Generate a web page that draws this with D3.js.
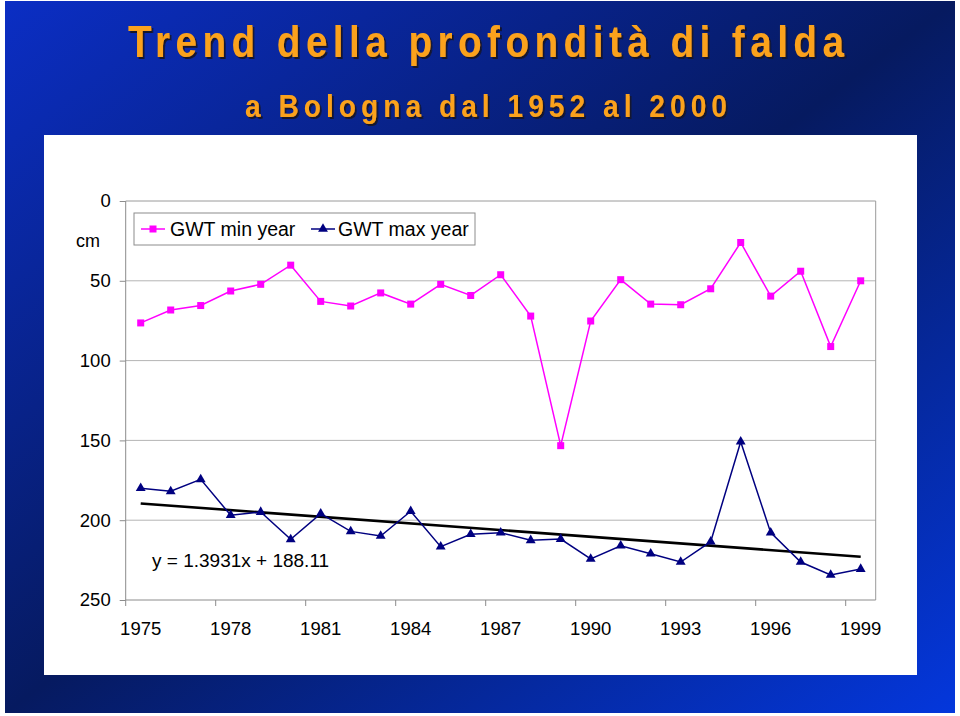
<!DOCTYPE html>
<html><head><meta charset="utf-8">
<script src="https://cdn.jsdelivr.net/npm/d3@7"></script>
<style>body{margin:0;background:#fff}svg{display:block}</style>
</head><body><svg id="c" width="960" height="716"></svg>
<script>
const years = [1975,1976,1977,1978,1979,1980,1981,1982,1983,1984,1985,1986,1987,1988,1989,1990,1991,1992,1993,1994,1995,1996,1997,1998,1999];
const gwtMin = [76.4,68.3,65.5,56.4,52.2,40.2,62.9,65.8,57.6,64.6,52.2,59.2,46.2,72.1,153.3,75.2,49.3,64.6,65.0,55.0,26.0,59.6,44.0,91.2,50.0];
const gwtMax = [180.0,181.9,174.4,196.9,194.9,212.0,195.9,207.0,209.9,194.4,216.6,208.8,207.8,212.6,211.8,224.3,216.0,221.0,226.2,213.5,150.8,207.8,226.2,234.3,230.6];
const yTicks = [0,50,100,150,200,250];
const xLabelYears = [1975,1978,1981,1984,1987,1990,1993,1996,1999];
const trendSlope = 1.3931, trendIntercept = 188.11;
const seriesNames = ["GWT min year","GWT max year"];
const titleText = "Trend della profondità di falda";
const subtitleText = "a Bologna dal 1952 al 2000";
const equationText = "y = 1.3931x + 188.11";

const svg = d3.select("#c");
const defs = svg.append("defs");
const g = defs.append("linearGradient").attr("id","bg").attr("x1",0).attr("y1",0).attr("x2",1).attr("y2",1);
g.append("stop").attr("offset",0).attr("stop-color","#0b2ec4");
g.append("stop").attr("offset",0.5).attr("stop-color","#061a60");
g.append("stop").attr("offset",1).attr("stop-color","#0437dc");
const f = defs.append("filter").attr("id","sh").attr("x","-5%").attr("y","-20%").attr("width","110%").attr("height","150%");
f.append("feDropShadow").attr("dx",2).attr("dy",2).attr("stdDeviation",0.4).attr("flood-color","#15152a").attr("flood-opacity",1);

svg.append("rect").attr("x",5).attr("y",1).attr("width",950).attr("height",712).attr("fill","url(#bg)");

// titles
const FONT = "'Liberation Sans',Arial,sans-serif";
function title(txt, x, y, w, size, sx){
  svg.append("text").attr("transform",`translate(${x},${y}) scale(${sx},1)`).attr("fill","#fba21c")
    .attr("filter","url(#sh)")
    .attr("font-family",FONT).attr("font-weight","bold").attr("font-size",size)
    .attr("textLength",w/sx).attr("lengthAdjust","spacing").text(txt);
}
title(titleText,128,57,716,44,0.88);
title(subtitleText,245,117,482,32,0.88);

// white panel
svg.append("rect").attr("x",44).attr("y",135).attr("width",873).attr("height",540).attr("fill","#fff");

const x = d3.scaleBand().domain(years).range([125.7,875.7]);
const cx = d => x(d)+x.bandwidth()/2;
const y = d3.scaleLinear().domain([0,250]).range([201,600]);
const AF = "'Liberation Sans',Arial,sans-serif";

// gridlines
svg.append("g").selectAll("line").data(yTicks.filter(v=>v>0&&v<250)).join("line")
  .attr("x1",125.7).attr("x2",875.7).attr("y1",d=>y(d)).attr("y2",d=>y(d))
  .attr("stroke","#b4b4b4").attr("stroke-width",1);
// plot border top/right
svg.append("path").attr("d",`M125.7,${y(0)}H875.7V${y(250)}`).attr("fill","none").attr("stroke","#9a9a9a");

// y axis
const ya = svg.append("g").attr("transform","translate(125.7,0)")
  .call(d3.axisLeft(y).tickValues(yTicks).tickSize(6).tickPadding(9));
ya.selectAll("path,line").attr("stroke","#8c8c8c");
ya.selectAll("text").attr("font-family",AF).attr("font-size",18.5).attr("fill","#000");
ya.select(".domain").attr("d",`M0,${y(0)}V${y(250)}`);

// x axis
const xa = svg.append("g").attr("transform",`translate(0,${y(250)})`);
xa.append("line").attr("x1",125.7).attr("x2",875.7).attr("stroke","#8c8c8c");
xa.selectAll("line.tk").data(years.filter((d,i)=>i%3===0)).join("line").attr("class","tk")
  .attr("x1",d=>x(d)).attr("x2",d=>x(d)).attr("y1",0).attr("y2",6).attr("stroke","#8c8c8c");
xa.selectAll("text").data(xLabelYears).join("text").attr("x",d=>cx(d)).attr("y",35)
  .attr("text-anchor","middle").attr("font-family",AF).attr("font-size",18.5).text(d=>d);

svg.append("text").attr("x",88).attr("y",247).attr("text-anchor","middle")
  .attr("font-family",AF).attr("font-size",18).text("cm");

// trend line
svg.append("line").attr("x1",cx(years[0])).attr("x2",cx(years[years.length-1]))
  .attr("y1",y(trendIntercept+trendSlope*1)).attr("y2",y(trendIntercept+trendSlope*years.length))
  .attr("stroke","#000").attr("stroke-width",2.6);

const line = d3.line().x((d,i)=>cx(years[i])).y(d=>y(d));
svg.append("path").attr("d",line(gwtMin)).attr("fill","none").attr("stroke","#ff00ff").attr("stroke-width",1.5);
svg.append("path").attr("d",line(gwtMax)).attr("fill","none").attr("stroke","#000080").attr("stroke-width",1.5);

svg.append("g").selectAll("rect").data(gwtMin).join("rect")
  .attr("x",(d,i)=>cx(years[i])-3.5).attr("y",d=>y(d)-3.5).attr("width",7).attr("height",7).attr("fill","#ff00ff");
const tri = d3.symbol().type(d3.symbolTriangle).size(42);
svg.append("g").selectAll("path").data(gwtMax).join("path")
  .attr("transform",(d,i)=>`translate(${cx(years[i])},${y(d)})`).attr("d",tri).attr("fill","#000080");

svg.append("text").attr("x",152).attr("y",567).attr("font-family",AF).attr("font-size",19).text(equationText);

// legend
const lg = svg.append("g");
lg.append("rect").attr("x",134).attr("y",213).attr("width",341).attr("height",32).attr("fill","#fff").attr("stroke","#8c8c8c");
lg.append("line").attr("x1",141).attr("x2",165).attr("y1",229).attr("y2",229).attr("stroke","#ff00ff").attr("stroke-width",1.5);
lg.append("rect").attr("x",149.5).attr("y",225.5).attr("width",7).attr("height",7).attr("fill","#ff00ff");
lg.append("text").attr("x",170).attr("y",236).attr("font-family",AF).attr("font-size",19.5).text(seriesNames[0]);
lg.append("line").attr("x1",311).attr("x2",335).attr("y1",229).attr("y2",229).attr("stroke","#000080").attr("stroke-width",1.5);
lg.append("path").attr("transform","translate(323,229)").attr("d",tri).attr("fill","#000080");
lg.append("text").attr("x",338).attr("y",236).attr("font-family",AF).attr("font-size",19.5).text(seriesNames[1]);
</script></body></html>
